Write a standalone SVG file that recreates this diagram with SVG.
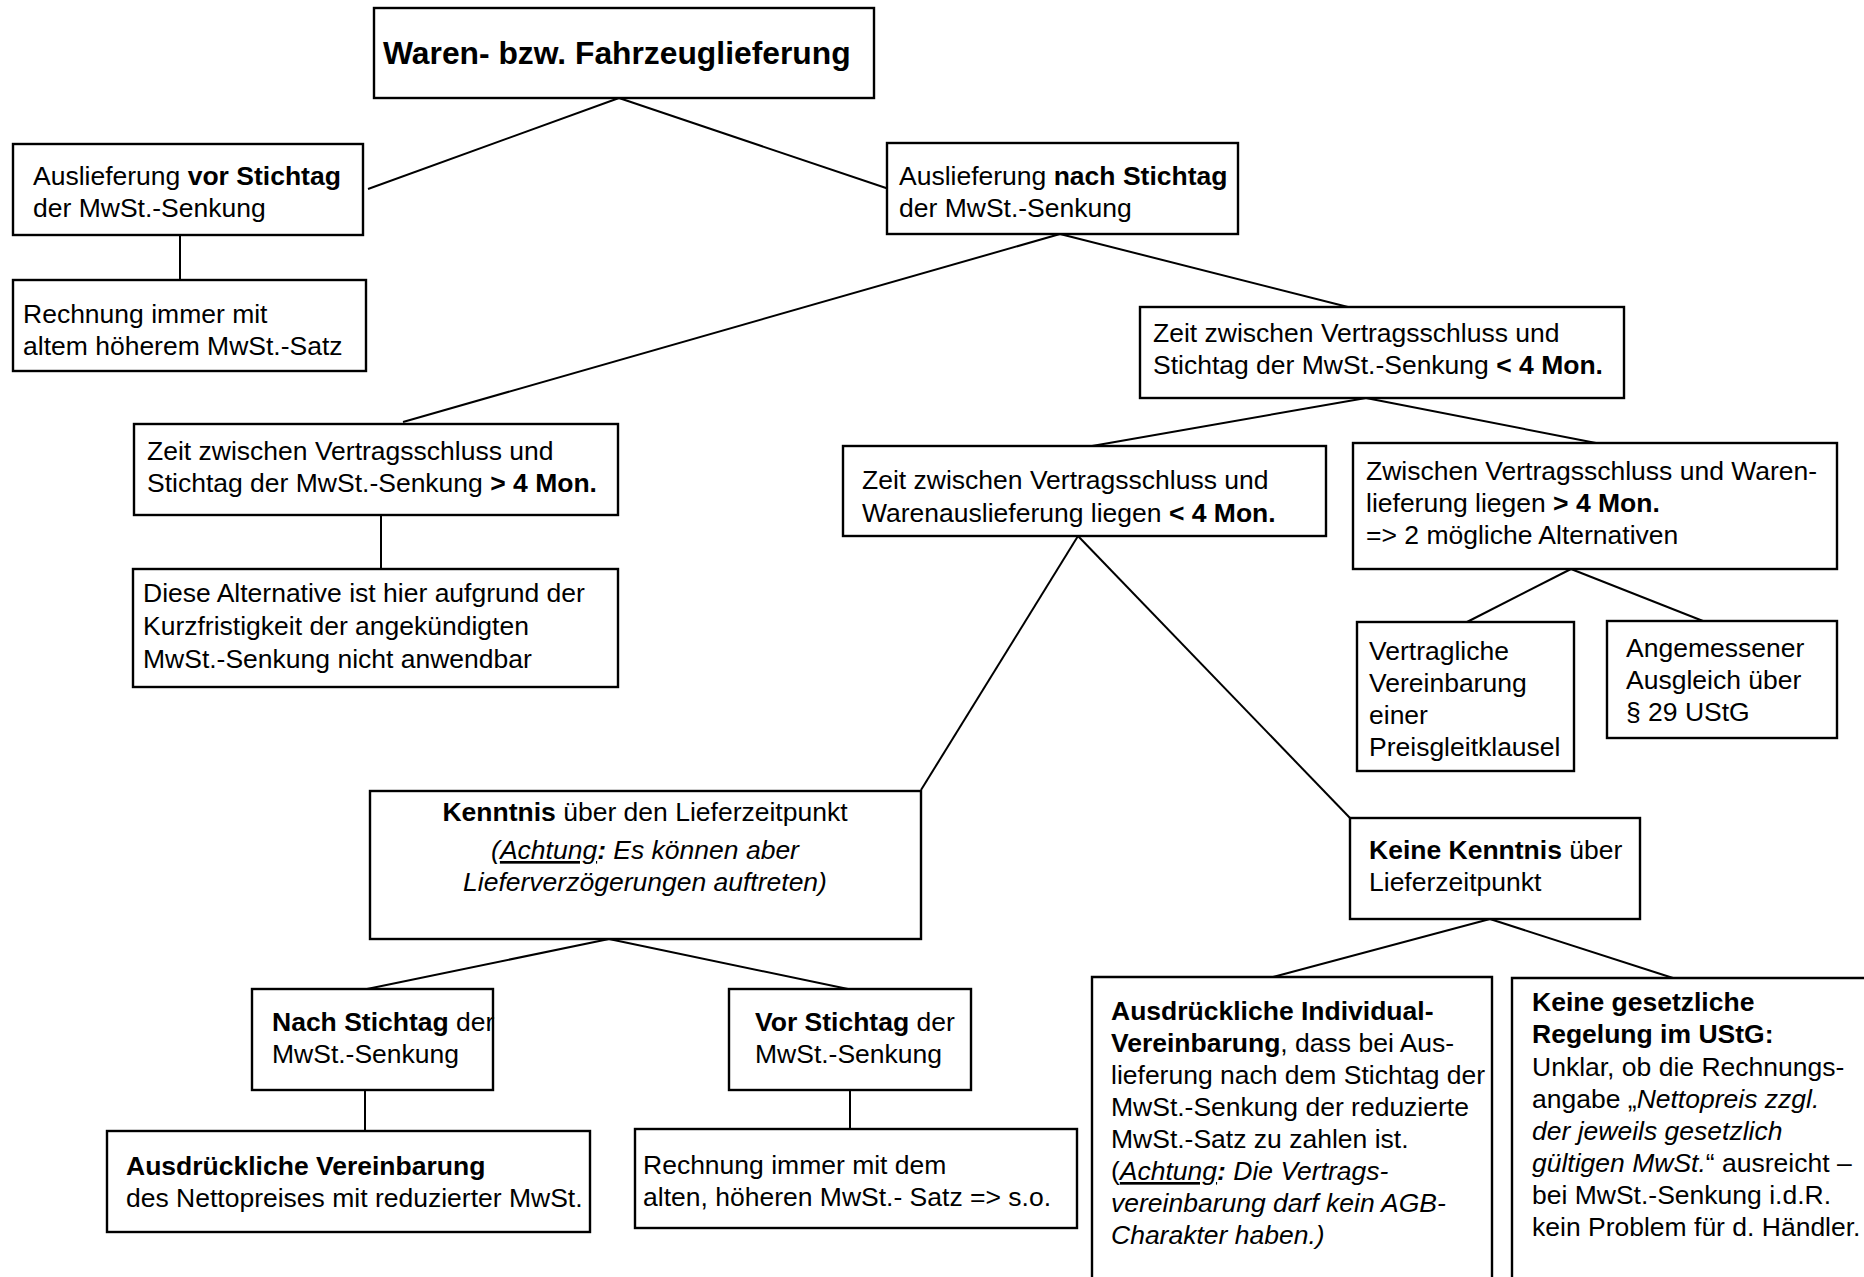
<svg xmlns="http://www.w3.org/2000/svg" width="1864" height="1277" viewBox="0 0 1864 1277">
<style>
text{font-family:"Liberation Sans",Arial,sans-serif;font-size:26.5px;fill:#000}
.t{font-size:31.8px;font-weight:bold}
.b{font-weight:bold}
.i{font-style:italic}
.u{text-decoration:underline}
.box{fill:#fff;stroke:#000;stroke-width:2.4}
.open{fill:none;stroke:#000;stroke-width:2.4}
#connectors line{stroke:#000;stroke-width:2}
</style>
<rect width="1864" height="1277" fill="#fff"/>
<g id="connectors">
<line x1="619" y1="98" x2="368" y2="189"/>
<line x1="619" y1="98" x2="889" y2="189"/>
<line x1="180" y1="235" x2="180" y2="280"/>
<line x1="1060" y1="234" x2="403" y2="422"/>
<line x1="1060" y1="234" x2="1348" y2="307"/>
<line x1="381" y1="515" x2="381" y2="569"/>
<line x1="1366" y1="398" x2="1092" y2="446"/>
<line x1="1366" y1="398" x2="1596" y2="443"/>
<line x1="1571" y1="569" x2="1467" y2="622"/>
<line x1="1571" y1="569" x2="1703" y2="621"/>
<line x1="1078" y1="536" x2="921" y2="790"/>
<line x1="1078" y1="536" x2="1350" y2="818"/>
<line x1="609" y1="939" x2="367" y2="989"/>
<line x1="609" y1="939" x2="848" y2="989"/>
<line x1="365" y1="1090" x2="365" y2="1131"/>
<line x1="850" y1="1090" x2="850" y2="1129"/>
<line x1="1490" y1="919" x2="1273" y2="977"/>
<line x1="1490" y1="919" x2="1673" y2="978"/>
</g>
<g id="n-root">
<rect class="box" x="374" y="8" width="500" height="90"/>
<text class="t" x="383" y="64">Waren- bzw. Fahrzeuglieferung</text>
</g>
<g id="n-vor">
<rect class="box" x="13" y="144" width="350" height="91"/>
<text x="33" y="185">Auslieferung <tspan class="b">vor Stichtag</tspan></text>
<text x="33" y="217">der MwSt.-Senkung</text>
</g>
<g id="n-vor-rechnung">
<rect class="box" x="13" y="280" width="353" height="91"/>
<text x="23" y="323">Rechnung immer mit</text>
<text x="23" y="355">altem höherem MwSt.-Satz</text>
</g>
<g id="n-nach">
<rect class="box" x="887" y="143" width="351" height="91"/>
<text x="899" y="185">Auslieferung <tspan class="b">nach Stichtag</tspan></text>
<text x="899" y="217">der MwSt.-Senkung</text>
</g>
<g id="n-kurz">
<rect class="box" x="1140" y="307" width="484" height="91"/>
<text x="1153" y="342">Zeit zwischen Vertragsschluss und</text>
<text x="1153" y="374">Stichtag der MwSt.-Senkung <tspan class="b">&lt; 4 Mon.</tspan></text>
</g>
<g id="n-lang">
<rect class="box" x="134" y="424" width="484" height="91"/>
<text x="147" y="460">Zeit zwischen Vertragsschluss und</text>
<text x="147" y="492">Stichtag der MwSt.-Senkung <tspan class="b">&gt; 4 Mon.</tspan></text>
</g>
<g id="n-lang-info">
<rect class="box" x="133" y="569" width="485" height="118"/>
<text x="143" y="602">Diese Alternative ist hier aufgrund der</text>
<text x="143" y="635">Kurzfristigkeit der angekündigten</text>
<text x="143" y="668">MwSt.-Senkung nicht anwendbar</text>
</g>
<g id="n-waren-kurz">
<rect class="box" x="843" y="446" width="483" height="90"/>
<text x="862" y="489">Zeit zwischen Vertragsschluss und</text>
<text x="862" y="522">Warenauslieferung liegen <tspan class="b">&lt; 4 Mon.</tspan></text>
</g>
<g id="n-waren-lang">
<rect class="box" x="1353" y="443" width="484" height="126"/>
<text x="1366" y="480">Zwischen Vertragsschluss und Waren-</text>
<text x="1366" y="512">lieferung liegen <tspan class="b">&gt; 4 Mon.</tspan></text>
<text x="1366" y="544">=&gt; 2 mögliche Alternativen</text>
</g>
<g id="n-preisgleit">
<rect class="box" x="1357" y="622" width="217" height="149"/>
<text x="1369" y="660">Vertragliche</text>
<text x="1369" y="692">Vereinbarung</text>
<text x="1369" y="724">einer</text>
<text x="1369" y="756">Preisgleitklausel</text>
</g>
<g id="n-ausgleich">
<rect class="box" x="1607" y="621" width="230" height="117"/>
<text x="1626" y="657">Angemessener</text>
<text x="1626" y="689">Ausgleich über</text>
<text x="1626" y="721">§ 29 UStG</text>
</g>
<g id="n-kenntnis">
<rect class="box" x="370" y="791" width="551" height="148"/>
<text x="645" y="821" text-anchor="middle"><tspan class="b">Kenntnis</tspan> über den Lieferzeitpunkt</text>
<text x="645" y="859" text-anchor="middle" class="i">(<tspan class="u">Achtung</tspan><tspan class="b">:</tspan> Es können aber</text>
<text x="645" y="891" text-anchor="middle" class="i">Lieferverzögerungen auftreten)</text>
</g>
<g id="n-keine-kenntnis">
<rect class="box" x="1350" y="818" width="290" height="101"/>
<text x="1369" y="859"><tspan class="b">Keine Kenntnis</tspan> über</text>
<text x="1369" y="891">Lieferzeitpunkt</text>
</g>
<g id="n-nach-stichtag">
<rect class="box" x="252" y="989" width="241" height="101"/>
<text x="272" y="1031"><tspan class="b">Nach Stichtag</tspan> der</text>
<text x="272" y="1063">MwSt.-Senkung</text>
</g>
<g id="n-vor-stichtag">
<rect class="box" x="729" y="989" width="242" height="101"/>
<text x="755" y="1031"><tspan class="b">Vor Stichtag</tspan> der</text>
<text x="755" y="1063">MwSt.-Senkung</text>
</g>
<g id="n-netto">
<rect class="box" x="107" y="1131" width="483" height="101"/>
<text x="126" y="1175" class="b">Ausdrückliche Vereinbarung</text>
<text x="126" y="1207">des Nettopreises mit reduzierter MwSt.</text>
</g>
<g id="n-alt">
<rect class="box" x="635" y="1129" width="442" height="99"/>
<text x="643" y="1174">Rechnung immer mit dem</text>
<text x="643" y="1206">alten, höheren MwSt.- Satz =&gt; s.o.</text>
</g>
<g id="n-individual">
<path class="open" d="M1092 1280 V977 H1492 V1280"/>
<text x="1111" y="1020" class="b">Ausdrückliche Individual-</text>
<text x="1111" y="1052"><tspan class="b">Vereinbarung</tspan>, dass bei Aus-</text>
<text x="1111" y="1084">lieferung nach dem Stichtag der</text>
<text x="1111" y="1116">MwSt.-Senkung der reduzierte</text>
<text x="1111" y="1148">MwSt.-Satz zu zahlen ist.</text>
<text x="1111" y="1180">(<tspan class="i u">Achtung</tspan><tspan class="i b">:</tspan><tspan class="i"> Die Vertrags-</tspan></text>
<text x="1111" y="1212" class="i">vereinbarung darf kein AGB-</text>
<text x="1111" y="1244" class="i">Charakter haben.)</text>
</g>
<g id="n-gesetz">
<path class="open" d="M1512 1280 V978 H1866"/>
<text x="1532" y="1011" class="b">Keine gesetzliche</text>
<text x="1532" y="1043" class="b">Regelung im UStG:</text>
<text x="1532" y="1076">Unklar, ob die Rechnungs-</text>
<text x="1532" y="1108">angabe „<tspan class="i">Nettopreis zzgl.</tspan></text>
<text x="1532" y="1140" class="i">der jeweils gesetzlich</text>
<text x="1532" y="1172"><tspan class="i">gültigen MwSt.</tspan>“ ausreicht –</text>
<text x="1532" y="1204">bei MwSt.-Senkung i.d.R.</text>
<text x="1532" y="1236">kein Problem für d. Händler.</text>
</g>
</svg>
